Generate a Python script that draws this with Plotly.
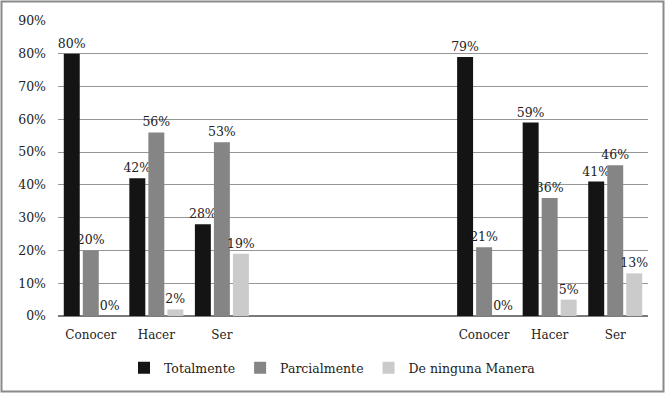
import plotly.graph_objects as go

categories = ["Conocer", "Hacer", "Ser", "Conocer", "Hacer", "Ser"]
positions = [0, 1, 2, 6, 7, 8]
totalmente = [80, 42, 28, 79, 59, 41]
parcialmente = [20, 56, 53, 21, 36, 46]
ninguna = [0, 2, 19, 0, 5, 13]
series_names = ["Totalmente", "Parcialmente", "De ninguna Manera"]
colors = ["#141414", "#858585", "#cbcbcb"]
y_ticks = [0, 10, 20, 30, 40, 50, 60, 70, 80, 90]

W, H = 665, 393
ML, MR, MT, MB = 58, 17, 21, 77
FONT = "DejaVu Serif"

fig = go.Figure()
for name, vals, col in zip(series_names, [totalmente, parcialmente, ninguna], colors):
    fig.add_trace(go.Bar(
        x=positions, y=vals, name=name, marker_color=col, marker_line_width=0,
        text=[f"{v}%" for v in vals],
        textposition="outside", cliponaxis=False,
        constraintext="none",
        outsidetextfont=dict(family=FONT, size=12.5, color="#222"),
    ))

pw = W - ML - MR
ph = H - MT - MB
fig.update_layout(
    width=W, height=H,
    margin=dict(l=ML, r=MR, t=MT, b=MB),
    paper_bgcolor="white", plot_bgcolor="white",
    barmode="group", bargap=0.13, bargroupgap=0.16,
    font=dict(family=FONT, size=13, color="#222"),
    showlegend=True,
    legend=dict(orientation="h", xref="container", x=0.5, xanchor="center",
                yref="container", y=0.025, yanchor="bottom",
                font=dict(family=FONT, size=12.5, color="#222"),
                itemwidth=30, tracegroupgap=0),
    xaxis=dict(range=[-0.5, 8.5], tickvals=positions, ticktext=categories,
               showgrid=False, zeroline=False, showline=False, ticks="",
               ticklabelstandoff=10,
               tickfont=dict(family=FONT, size=12, color="#222")),
    yaxis=dict(range=[0, 90], tickvals=y_ticks, ticktext=[f"{t}%" for t in y_ticks],
               showgrid=True, gridcolor="#969696", gridwidth=1,
               zeroline=True, zerolinecolor="#7a7a7a", zerolinewidth=1.5,
               showline=False, ticks="", ticklen=0, ticklabelstandoff=11,
               tickfont=dict(family=FONT, size=12.5, color="#222")),
    shapes=[dict(type="rect", xref="paper", yref="paper",
                 x0=-(ML - 1.5) / pw, x1=1 + (MR - 1.5) / pw,
                 y0=-(MB - 1.5) / ph, y1=1 + (MT - 1.5) / ph,
                 line=dict(color="#8a8a8a", width=2), fillcolor="rgba(0,0,0,0)")],
)

fig.write_html("out.html", config={"displayModeBar": False},
               post_script="document.body.style.margin='0';")
